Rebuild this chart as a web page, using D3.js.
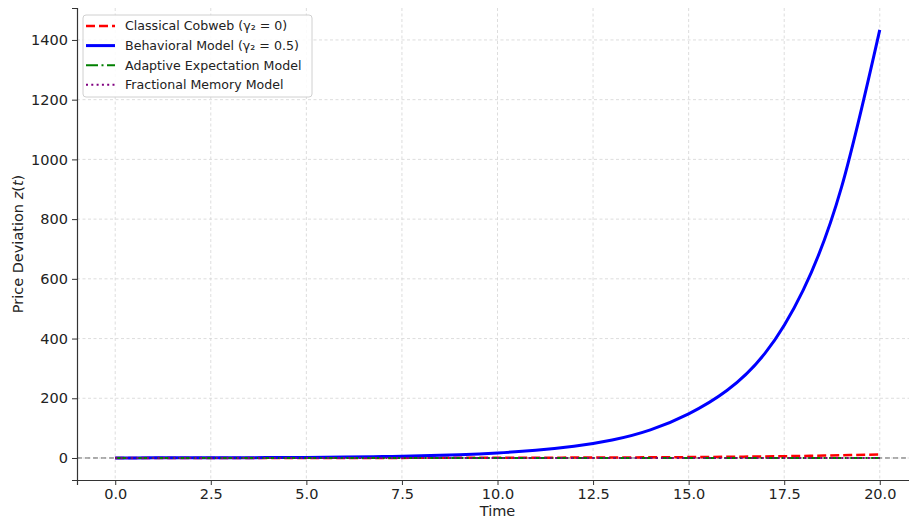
<!DOCTYPE html>
<html>
<head>
<meta charset="utf-8">
<script src="https://cdn.jsdelivr.net/npm/d3@7"></script>
<style>
  body { margin: 0; background: #fff; }
  svg { display: block; font-family: "DejaVu Sans", sans-serif; }
</style>
</head>
<body>
<div id="chart"></div>
<script>
// Time steps and values
const times = [0, 1, 2, 3, 4, 5, 6, 7, 8, 9, 10, 11, 12, 13, 14, 15, 16, 17, 18, 19, 20];
const classical = [0.05, 0.06, 0.08, 0.11, 0.14, 0.19, 0.25, 0.33, 0.43, 0.57, 0.75, 1.0, 1.3, 1.7, 2.3, 3.0, 4.0, 5.2, 6.9, 9.1, 12];
const behavioral = [0.25, 0.4, 0.6, 0.9, 1.3, 2.0, 3.1, 4.8, 7.3, 11.2, 17, 25.7, 39, 60, 94, 148, 226, 351, 563, 907, 1434];
const adaptive = [0.05, 0.05, 0.04, 0.04, 0.04, 0.03, 0.03, 0.03, 0.02, 0.02, 0.02, 0.02, 0.02, 0.01, 0.01, 0.01, 0.01, 0.01, 0.01, 0.01, 0.01];
const fractional = [0.05, 0.04, 0.04, 0.03, 0.03, 0.03, 0.02, 0.02, 0.02, 0.02, 0.02, 0.02, 0.01, 0.01, 0.01, 0.01, 0.01, 0.01, 0.01, 0.01, 0.01];

const xTicks = [0, 2.5, 5, 7.5, 10, 12.5, 15, 17.5, 20];
const yTicks = [0, 200, 400, 600, 800, 1000, 1200, 1400];

const series = [
  { name: "Classical Cobweb (γ₂ = 0)", values: classical, color: "red", width: 2.5, dash: "9,4" },
  { name: "Behavioral Model (γ₂ = 0.5)", values: behavioral, color: "blue", width: 3, dash: null },
  { name: "Adaptive Expectation Model", values: adaptive, color: "green", width: 2, dash: "12,3.5,2,3.5" },
  { name: "Fractional Memory Model", values: fractional, color: "purple", width: 2, dash: "2,3.3" }
];

const width = 909, height = 518;
const margin = { top: 8, right: -9, bottom: 38, left: 77 };

const svg = d3.select("#chart")
  .append("svg")
  .attr("width", width)
  .attr("height", height);

// Scales
const x = d3.scaleLinear()
  .domain([-1, 21])
  .range([margin.left, width - margin.right]);

const y = d3.scaleLinear()
  .domain([-73.7, 1507])
  .range([height - margin.bottom, margin.top]);

// Grid lines
svg.append("g")
  .selectAll("line")
  .data(xTicks)
  .enter()
  .append("line")
  .attr("x1", d => x(d)).attr("x2", d => x(d))
  .attr("y1", margin.top).attr("y2", height - margin.bottom)
  .attr("stroke", "#d4d4d4")
  .attr("stroke-width", 0.8)
  .attr("stroke-dasharray", "3,2.5");

svg.append("g")
  .selectAll("line")
  .data(yTicks)
  .enter()
  .append("line")
  .attr("x1", margin.left).attr("x2", width - margin.right)
  .attr("y1", d => y(d)).attr("y2", d => y(d))
  .attr("stroke", "#d4d4d4")
  .attr("stroke-width", 0.8)
  .attr("stroke-dasharray", "3,2.5");

// Zero reference line
svg.append("line")
  .attr("x1", margin.left).attr("x2", width - margin.right)
  .attr("y1", y(0)).attr("y2", y(0))
  .attr("stroke", "#555")
  .attr("stroke-width", 0.9)
  .attr("stroke-dasharray", "5,3");

// Lines
const line = d3.line()
  .x((d, i) => x(times[i]))
  .y(d => y(d))
  .curve(d3.curveNatural);

series.forEach(function (s) {
  svg.append("path")
    .datum(s.values)
    .attr("d", line)
    .attr("fill", "none")
    .attr("stroke", s.color)
    .attr("stroke-width", s.width)
    .attr("stroke-dasharray", s.dash);
});

// Axes
const xAxis = svg.append("g")
  .attr("transform", "translate(0," + (height - margin.bottom) + ")")
  .call(d3.axisBottom(x).tickValues(xTicks).tickFormat(d3.format(".1f")).tickSizeOuter(0).tickSize(5).tickPadding(4));

const yAxis = svg.append("g")
  .attr("transform", "translate(" + margin.left + ",0)")
  .call(d3.axisLeft(y).tickValues(yTicks).tickFormat(d3.format("d")).tickSizeOuter(0).tickSize(5).tickPadding(4));

[xAxis, yAxis].forEach(function (g) {
  g.select(".domain").attr("stroke", "#333").attr("stroke-width", 1.2);
  g.selectAll(".tick line").attr("stroke", "#333").attr("stroke-width", 1);
  g.selectAll(".tick text")
    .attr("fill", "#222")
    .style("font-size", "14.5px")
    .style("font-family", "DejaVu Sans, sans-serif");
});

// Axis labels
svg.append("text")
  .attr("x", x(10))
  .attr("y", 516)
  .attr("text-anchor", "middle")
  .attr("fill", "#222")
  .style("font-size", "14.5px")
  .text("Time");

const yLabel = svg.append("text")
  .attr("transform", "translate(23," + ((margin.top + height - margin.bottom) / 2) + ") rotate(-90)")
  .attr("text-anchor", "middle")
  .attr("fill", "#222")
  .style("font-size", "14.5px");
yLabel.append("tspan").text("Price Deviation ");
yLabel.append("tspan").style("font-style", "italic").text("z");
yLabel.append("tspan").text("(");
yLabel.append("tspan").style("font-style", "italic").text("t");
yLabel.append("tspan").text(")");

// Legend
const legend = svg.append("g").attr("transform", "translate(83,15)");
legend.append("rect")
  .attr("width", 229)
  .attr("height", 82)
  .attr("rx", 3)
  .attr("fill", "white")
  .attr("fill-opacity", 0.85)
  .attr("stroke", "#d0d0d0")
  .attr("stroke-width", 1);

series.forEach(function (s, i) {
  const yy = 11 + i * 19.6;
  legend.append("line")
    .attr("x1", 3).attr("x2", 32)
    .attr("y1", yy).attr("y2", yy)
    .attr("stroke", s.color)
    .attr("stroke-width", s.width)
    .attr("stroke-dasharray", s.dash);
  legend.append("text")
    .attr("x", 42)
    .attr("y", yy)
    .attr("dy", "0.35em")
    .attr("fill", "#222")
    .style("font-size", "12.6px")
    .text(s.name);
});
</script>
</body>
</html>
